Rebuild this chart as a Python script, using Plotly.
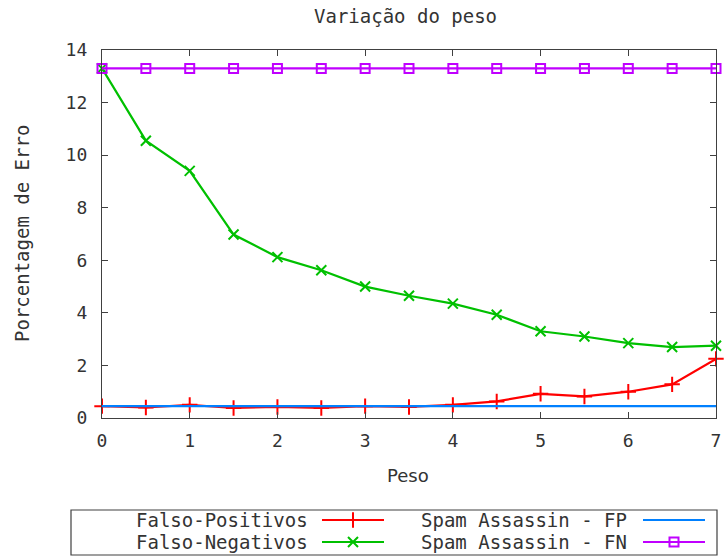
import plotly.graph_objects as go

W, H = 724, 556

peso = [0, 0.5, 1, 1.5, 2, 2.5, 3, 3.5, 4, 4.5, 5, 5.5, 6, 6.5, 7]
falso_positivos = [0.45, 0.40, 0.50, 0.38, 0.42, 0.38, 0.45, 0.42, 0.50, 0.63, 0.92, 0.82, 1.00, 1.28, 2.25]
falso_negativos = [13.3, 10.55, 9.4, 6.98, 6.12, 5.62, 5.0, 4.65, 4.35, 3.93, 3.3, 3.1, 2.85, 2.7, 2.75]
spam_fp = [0.45] * len(peso)
spam_fn = [13.3] * len(peso)

x_ticks = [0, 1, 2, 3, 4, 5, 6, 7]
y_ticks = [0, 2, 4, 6, 8, 10, 12, 14]

series = [
    ("Falso-Positivos", falso_positivos, "#ff0000", "cross-thin", 11, "lines+markers"),
    ("Falso-Negativos", falso_negativos, "#00c000", "x-thin", 10, "lines+markers"),
    ("Spam Assassin - FP", spam_fp, "#0080ff", "circle", 1, "lines"),
    ("Spam Assassin - FN", spam_fn, "#c000ff", "square-open", 9, "lines+markers"),
]

MONO = "DejaVu Sans Mono"
TXT = "#333333"
AX = "#404040"
FS = 19

# plot area in pixels
L, R, T, B = 102, 716, 50, 418
px = lambda v: v / W
py = lambda v: 1 - v / H

fig = go.Figure()
for name, vals, col, sym, sz, mode in series:
    fig.add_trace(go.Scatter(
        x=peso, y=vals, mode=mode, name=name, cliponaxis=False,
        line=dict(color=col, width=2.2),
        marker=dict(symbol=sym, size=sz, color=col, line=dict(color=col, width=2)),
        showlegend=False, xaxis="x", yaxis="y",
    ))

# custom legend (gnuplot style: text then sample)
leg_rows = [520, 542]
leg_cols = [(310, 322, 384), (629, 643, 705)]
for i, (name, vals, col, sym, sz, mode) in enumerate(series):
    c = i // 2
    r = i % 2
    tx, l0, l1 = leg_cols[c]
    yy = leg_rows[r]
    fig.add_trace(go.Scatter(
        x=[l0, l1], y=[yy, yy], mode="lines", xaxis="x2", yaxis="y2",
        line=dict(color=col, width=2.2), showlegend=False, hoverinfo="skip", cliponaxis=False,
    ))
    if mode == "lines+markers":
        fig.add_trace(go.Scatter(
            x=[(l0 + l1) / 2], y=[yy], mode="markers", xaxis="x2", yaxis="y2",
            marker=dict(symbol=sym, size=sz, color=col, line=dict(color=col, width=2)),
            showlegend=False, hoverinfo="skip", cliponaxis=False,
        ))
    fig.add_annotation(x=px(tx), y=py(yy), xref="paper", yref="paper", text=name,
                       showarrow=False, xanchor="right", yanchor="middle",
                       font=dict(family=MONO, size=FS, color=TXT))

fig.add_shape(type="rect", xref="paper", yref="paper",
              x0=px(71), x1=px(717), y0=py(510), y1=py(555),
              line=dict(color=AX, width=1.2), fillcolor="rgba(0,0,0,0)")

axis_common = dict(showline=True, linecolor=AX, linewidth=1.2, mirror="ticks",
                   ticks="inside", ticklen=6, tickcolor=AX, tickwidth=1.2,
                   showgrid=False, zeroline=False, automargin=False,
                   tickfont=dict(family=MONO, size=18, color=TXT))

fig.update_layout(
    width=W, height=H,
    margin=dict(l=0, r=0, t=0, b=0),
    paper_bgcolor="white", plot_bgcolor="rgba(0,0,0,0)",
    xaxis=dict(domain=[px(L), px(R)], range=[0, 7], tickvals=x_ticks,
               ticklabelstandoff=6, anchor="y", **axis_common),
    yaxis=dict(domain=[py(B), py(T)], range=[0, 14], tickvals=y_ticks,
               ticklabelstandoff=10, anchor="x", **axis_common),
    xaxis2=dict(domain=[0, 1], range=[0, W], visible=False, anchor="y2", fixedrange=True),
    yaxis2=dict(domain=[0, 1], range=[H, 0], visible=False, anchor="x2", fixedrange=True),
    showlegend=False,
)

fig.add_annotation(x=px(406), y=py(16), xref="paper", yref="paper", text="Variação do peso",
                   showarrow=False, xanchor="center", yanchor="middle",
                   font=dict(family=MONO, size=FS, color=TXT))
fig.add_annotation(x=px(408), y=py(475), xref="paper", yref="paper", text="Peso",
                   showarrow=False, xanchor="center", yanchor="middle",
                   font=dict(family="DejaVu Sans", size=18, color=TXT))
fig.add_annotation(x=px(22), y=py(234), xref="paper", yref="paper", text="Porcentagem de Erro",
                   showarrow=False, xanchor="center", yanchor="middle", textangle=-90,
                   font=dict(family=MONO, size=FS, color=TXT))

fig.write_html("out.html", config={"displayModeBar": False},
               post_script="document.body.style.margin='0px';document.body.style.overflow='hidden';")
